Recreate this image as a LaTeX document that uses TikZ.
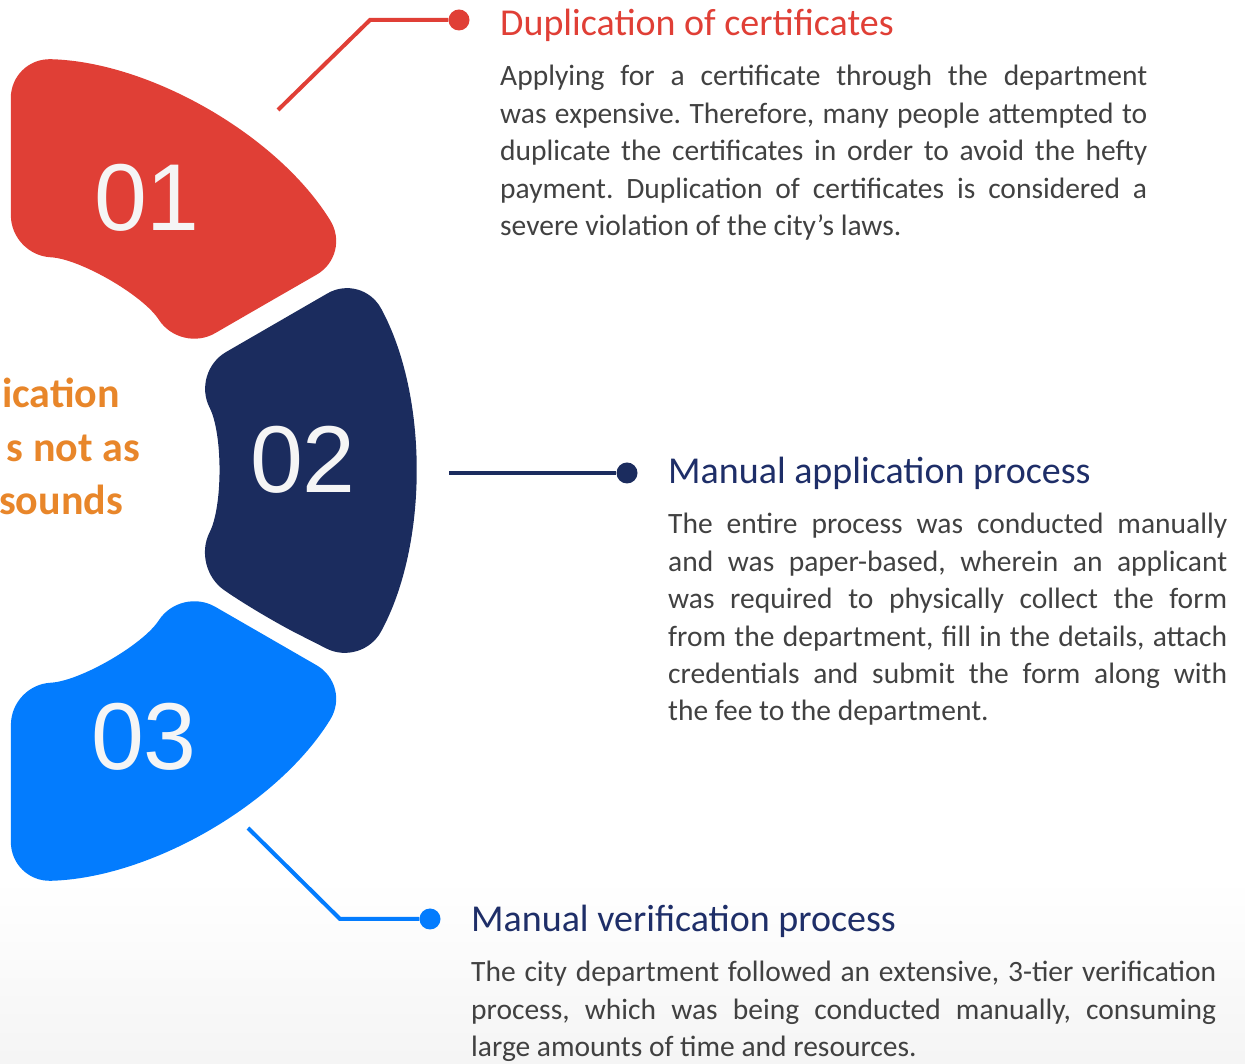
\documentclass[tikz,border=0pt]{standalone}
\usepackage{fontspec}
\setmainfont{Carlito}
\newfontfamily\numfont{Liberation Sans}
\definecolor{segred}{HTML}{E03F36}
\definecolor{segnavy}{HTML}{1B2C5E}
\definecolor{segblue}{HTML}{037CFE}
\definecolor{ttlnavy}{HTML}{1E2E68}
\definecolor{bodygray}{HTML}{414141}
\definecolor{hintorange}{HTML}{E8862A}
\definecolor{numwhite}{HTML}{F5F5F5}
\frenchspacing

\begin{document}
\begin{tikzpicture}[x=1pt,y=1pt,
  seg/.style={rounded corners=40pt},
  num/.style={text=numwhite, inner sep=0, font=\numfont\fontsize{95}{95}\selectfont},
  ttl/.style={anchor=base west, inner sep=0, font=\fontsize{38}{44}\selectfont},
  body/.style={anchor=base west, inner sep=0, text=bodygray, align=justify,
               font=\fontsize{29.5}{37.4}\selectfont},
  hint/.style={anchor=base east, inner sep=0, text=hintorange,
               font=\bfseries\fontsize{42}{53}\selectfont},
  dotnode/.style={circle, inner sep=0, minimum size=21pt},
  lead/.style={line width=4pt}]
  \useasboundingbox (0,0) rectangle (1245,1063);
  %фон снизу
  \fill[bottom color=black!4, top color=white] (0,0) rectangle (1245,185);

  %сегменты кольца
  \begin{scope}[shift={(0,593)}]
    \fill[segred, seg] (32.1:300) -- (31.5:412) arc[start angle=31.5, end angle=88.5, radius=412]
      -- (87.1:215) arc[start angle=87.1, end angle=32.9, radius=215] -- cycle;
    \fill[segnavy, seg] (-29.1:300) -- (-28.5:412) arc[start angle=-28.5, end angle=28.5, radius=412]
      -- (27.1:215) arc[start angle=27.1, end angle=-27.1, radius=215] -- cycle;
    \fill[segblue, seg] (-87.9:300) -- (-88.5:412) arc[start angle=-88.5, end angle=-31.5, radius=412]
      -- (-32.9:215) arc[start angle=-32.9, end angle=-87.1, radius=215] -- cycle;
  \end{scope}
  \node[num] (num01) at (147,865) {01};
  \node[num] (num02) at (303,603) {02};
  \node[num] (num03) at (144,326) {03};

  %текст слева
  \node[hint] (hint1) at (120,655) {ication};
  \node[hint] (hint2) at (140,601) {s not as};
  \node[hint] (hint3) at (123,548) {sounds};

  %выноски
  \coordinate (lead01) at (278,953);
  \coordinate (knee01) at (370,1043);
  \node[dotnode, fill=segred] (dot01) at (459,1043) {};
  \draw[lead, segred] (lead01) -- (knee01) -- (dot01);

  \coordinate (lead02) at (449,590);
  \node[dotnode, fill=segnavy] (dot02) at (627,590) {};
  \draw[lead, segnavy] (lead02) -- (dot02);

  \coordinate (lead03) at (248,235);
  \coordinate (knee03) at (340,144);
  \node[dotnode, fill=segblue] (dot03) at (430,144) {};
  \draw[lead, segblue] (lead03) -- (knee03) -- (dot03);

  %заголовки и описания
  \node[ttl, text=segred] (ttl01) at (500,1027) {Duplication of certificates};
  \node[body, text width=647pt] (txt01) at (500,977) {Applying for a certificate through the department\linebreak
    was expensive. Therefore, many people attempted to\linebreak
    duplicate the certificates in order to avoid the hefty\linebreak
    payment. Duplication of certificates is considered a\linebreak
    severe violation of the city’s laws.};

  \node[ttl, text=ttlnavy] (ttl02) at (668,579) {Manual application process};
  \node[body, text width=559pt] (txt02) at (668,529) {The entire process was conducted manually\linebreak
    and was paper-based, wherein an applicant\linebreak
    was required to physically collect the form\linebreak
    from the department, fill in the details, attach\linebreak
    credentials and submit the form along with\linebreak
    the fee to the department.};

  \node[ttl, text=ttlnavy] (ttl03) at (471,131) {Manual verification process};
  \node[body, text width=745pt] (txt03) at (471,81) {The city department followed an extensive, 3-tier verification\linebreak
    process, which was being conducted manually, consuming\linebreak
    large amounts of time and resources.};
\end{tikzpicture}
\end{document}
